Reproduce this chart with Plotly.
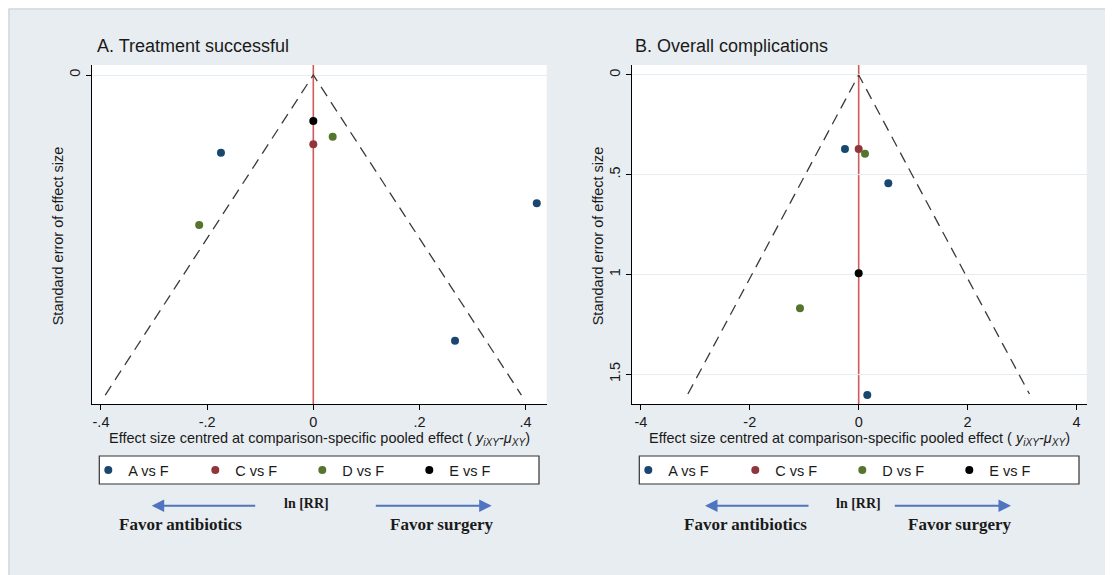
import plotly.graph_objects as go

# ---------------- data ----------------
comparisons = ["A vs F", "C vs F", "D vs F", "E vs F"]
comparison_colors = ["#1a476f", "#90353b", "#55752f", "#000000"]

# Panel A: Treatment successful
trt_group = ["A vs F", "A vs F", "A vs F", "C vs F", "D vs F", "D vs F", "E vs F"]
trt_effect = [-0.174, 0.421, 0.267, 0.0, 0.0365, -0.215, 0.0]
trt_se = [0.0486, 0.0802, 0.166, 0.0433, 0.0386, 0.0938, 0.0288]
trt_se_max = 0.2

# Panel B: Overall complications
comp_group = ["A vs F", "A vs F", "A vs F", "C vs F", "D vs F", "D vs F", "E vs F"]
comp_effect = [-0.252, 0.544, 0.158, 0.0, 0.116, -1.078, 0.0]
comp_se = [0.371, 0.543, 1.605, 0.371, 0.395, 1.170, 0.994]
comp_se_max = 1.6

trt_xticks = [-0.4, -0.2, 0, 0.2, 0.4]
trt_xticklabels = ["-.4", "-.2", "0", ".2", ".4"]
trt_yticks = [0]
trt_yticklabels = ["0"]
comp_xticks = [-4, -2, 0, 2, 4]
comp_xticklabels = ["-4", "-2", "0", "2", "4"]
comp_yticks = [0, 0.5, 1, 1.5]
comp_yticklabels = ["0", ".5", "1", "1.5"]

Z = 1.96  # 95% pseudo-confidence limits

# ---------------- layout helpers ----------------
OFF = 8  # page body margin
W, H = 1113 - OFF, 575 - OFF
def px(x):
    return (x - OFF) / W
def py(y):
    return 1 - (y - OFF) / H

FONT = "Liberation Sans, Arial, sans-serif"
SERIF = "Liberation Serif, Times New Roman, serif"
BG = "#e8edf1"
GRID = "#e6ecef"
TXT = "#1a1a1a"
FS = 14.5

fig = go.Figure()

panels = [
    dict(xa="x", ya="y", leg="legend", group=trt_group, eff=trt_effect, se=trt_se, semax=trt_se_max),
    dict(xa="x2", ya="y2", leg="legend2", group=comp_group, eff=comp_effect, se=comp_se, semax=comp_se_max),
]

for p in panels:
    # funnel (pseudo 95% CI limits)
    fig.add_trace(go.Scatter(
        x=[-Z * p["semax"], 0, Z * p["semax"]], y=[p["semax"], 0, p["semax"]],
        mode="lines", line=dict(color="#3a3a3a", width=1.3, dash="11px,7px"),
        xaxis=p["xa"], yaxis=p["ya"], showlegend=False, hoverinfo="skip"))
    # red zero line
    fig.add_shape(type="line", xref=p["xa"], yref=p["ya"] + " domain",
                  x0=0, x1=0, y0=0, y1=1, line=dict(color="#d05a5c", width=1.6),
                  layer="below")
    for name, col in zip(comparisons, comparison_colors):
        xs = [e for g, e in zip(p["group"], p["eff"]) if g == name]
        ys = [s for g, s in zip(p["group"], p["se"]) if g == name]
        fig.add_trace(go.Scatter(
            x=xs, y=ys, mode="markers", name=name,
            marker=dict(color=col, size=8, line=dict(width=0)),
            xaxis=p["xa"], yaxis=p["ya"], legend=p["leg"], showlegend=True))

axis_common = dict(showline=True, linecolor="#000", linewidth=1, ticks="outside",
                   ticklen=5, tickcolor="#000", zeroline=False,
                   tickfont=dict(family=FONT, size=FS, color=TXT))

left_dom = [px(91.7), px(546.7)]
right_dom = [px(631.7), px(1086.7)]
y_dom = [py(404), py(65)]

fig.update_layout(
    width=W, height=H,
    margin=dict(l=0, r=0, t=0, b=0),
    paper_bgcolor=BG, plot_bgcolor="#ffffff",
    showlegend=True,
    xaxis=dict(domain=left_dom, anchor="y", range=[-0.4175, 0.4397],
               tickvals=trt_xticks, ticktext=trt_xticklabels, showgrid=False, **axis_common),
    yaxis=dict(domain=y_dom, anchor="x", range=[0.2056, -0.00625],
               tickvals=trt_yticks, ticktext=trt_yticklabels, tickangle=-90,
               showgrid=True, gridcolor=GRID, gridwidth=1, **axis_common),
    xaxis2=dict(domain=right_dom, anchor="y2", range=[-4.168, 4.187],
                tickvals=comp_xticks, ticktext=comp_xticklabels, showgrid=False, **axis_common),
    yaxis2=dict(domain=y_dom, anchor="x2", range=[1.65, -0.05],
                tickvals=comp_yticks, ticktext=comp_yticklabels, tickangle=-90,
                showgrid=True, gridcolor=GRID, gridwidth=1, **axis_common),
    legend=dict(orientation="h", x=px(108.3 - 20), xanchor="left", y=py(470), yanchor="middle",
                bgcolor="rgba(0,0,0,0)", borderwidth=0, entrywidth=62, entrywidthmode="pixels",
                font=dict(family=FONT, size=FS, color=TXT), itemclick=False, itemdoubleclick=False),
    legend2=dict(orientation="h", x=px(648.3 - 20), xanchor="left", y=py(470), yanchor="middle",
                 bgcolor="rgba(0,0,0,0)", borderwidth=0, entrywidth=62, entrywidthmode="pixels",
                 font=dict(family=FONT, size=FS, color=TXT), itemclick=False, itemdoubleclick=False),
)

# border of the graph region
fig.add_shape(type="line", xref="paper", yref="paper", x0=px(9), x1=1, y0=py(9), y1=py(9),
              line=dict(color="#cdd2d6", width=1.2))
fig.add_shape(type="line", xref="paper", yref="paper", x0=px(9), x1=px(9), y0=py(9), y1=0,
              line=dict(color="#cdd2d6", width=1.2))

# legend boxes
for x0, x1 in [(99.3, 539), (639.3, 1079)]:
    fig.add_shape(type="rect", xref="paper", yref="paper", x0=px(x0), x1=px(x1),
                  y0=py(484), y1=py(456), fillcolor="#ffffff",
                  line=dict(color="#333333", width=1.2), layer="below")

ann = []
# titles
ann.append(dict(text="A. Treatment successful", x=px(95), y=py(46.5), xanchor="left", yanchor="middle",
                font=dict(family=FONT, size=18, color=TXT)))
ann.append(dict(text="B. Overall complications", x=px(633), y=py(46.5), xanchor="left", yanchor="middle",
                font=dict(family=FONT, size=18, color=TXT)))
# axis titles
xt = "Effect size centred at comparison-specific pooled effect ( <i>y<sub>iXY</sub>-μ<sub>XY</sub></i>)"
for cx, ycx in [(319.2, 58.3), (859.2, 598.3)]:
    ann.append(dict(text=xt, x=px(cx), y=py(439), xanchor="center", yanchor="middle",
                    font=dict(family=FONT, size=FS, color=TXT)))
    ann.append(dict(text="Standard error of effect size", x=px(ycx), y=py(236), textangle=-90,
                    xanchor="center", yanchor="middle", font=dict(family=FONT, size=FS, color=TXT)))

# direction labels and arrows
ARROW = "#4f74c0"
for lhead, ltail, mid, rtail, rhead, fa, fs in [
        (151.7, 256.7, 306, 374.3, 491.7, 180, 441.7),
        (705, 810, 858.3, 893.3, 1011, 745.7, 960)]:
    ann.append(dict(text="", x=px(lhead), y=py(505.7), ax=ltail - lhead, ay=0, showarrow=True,
                    arrowhead=2, arrowsize=1.25, arrowwidth=2, arrowcolor=ARROW, standoff=0))
    ann.append(dict(text="", x=px(rhead), y=py(505.7), ax=rtail - rhead, ay=0, showarrow=True,
                    arrowhead=2, arrowsize=1.25, arrowwidth=2, arrowcolor=ARROW, standoff=0))
    ann.append(dict(text="<b>ln [RR]</b>", x=px(mid), y=py(503.5), xanchor="center", yanchor="middle",
                    font=dict(family=SERIF, size=14, color=TXT)))
    ann.append(dict(text="<b>Favor antibiotics</b>", x=px(fa), y=py(524.5), xanchor="center", yanchor="middle",
                    font=dict(family=SERIF, size=17, color=TXT)))
    ann.append(dict(text="<b>Favor surgery</b>", x=px(fs), y=py(524.5), xanchor="center", yanchor="middle",
                    font=dict(family=SERIF, size=17, color=TXT)))

for a in ann:
    a.setdefault("showarrow", False)
    a["xref"] = "paper"
    a["yref"] = "paper"
    fig.add_annotation(**a)

fig.write_html("out.html")
